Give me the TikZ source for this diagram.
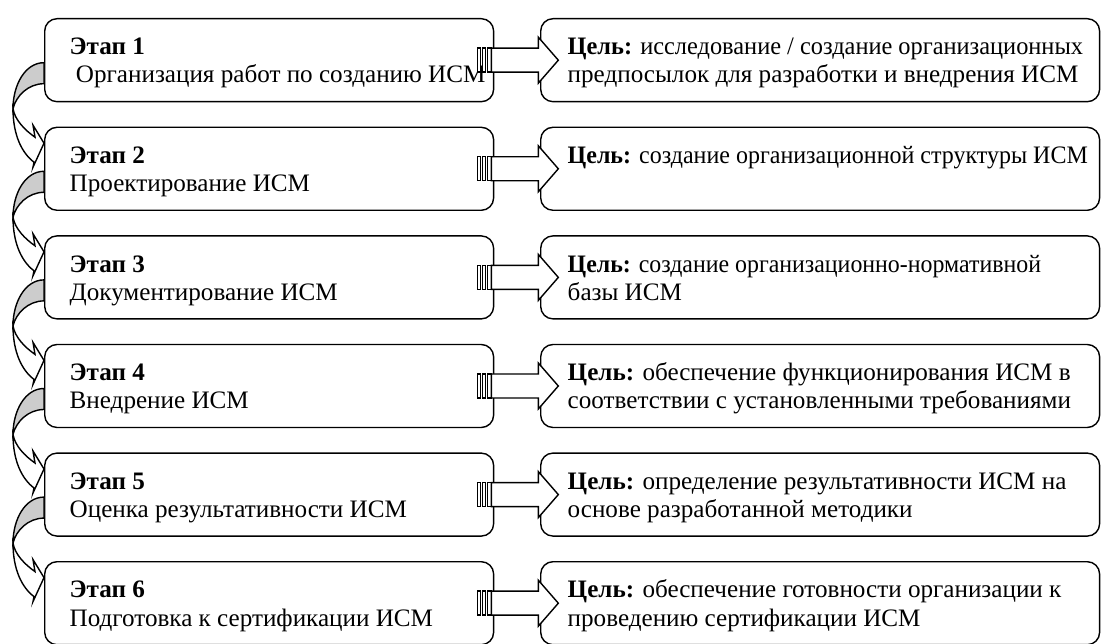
\documentclass[tikz,border=0pt]{standalone}
\usepackage{fontspec}
\setmainfont{Liberation Serif}

\begin{document}
\begin{tikzpicture}[x=0.02cm, y=-0.02cm, line width=0.8pt,
    stagebox/.style={draw, rounded corners=7pt, minimum width=8.98cm, minimum height=1.66cm, anchor=north west, inner sep=0pt},
    goalbox/.style={stagebox, minimum width=11.18cm},
    txt/.style={anchor=base west, align=left, inner sep=0pt, font=\fontsize{14.3}{16}\selectfont}]
    \useasboundingbox (0,0) rectangle (1104,644);

    % stages
    \node[stagebox] (st1) at (44,18) {};
    \node[stagebox] (st2) at (44,126.6) {};
    \node[stagebox] (st3) at (44,235.2) {};
    \node[stagebox] (st4) at (44,343.8) {};
    \node[stagebox] (st5) at (44,452.4) {};
    \node[stagebox] (st6) at (44,561) {};

    % goals
    \node[goalbox] (aim1) at (540,18) {};
    \node[goalbox] (aim2) at (540,126.6) {};
    \node[goalbox] (aim3) at (540,235.2) {};
    \node[goalbox] (aim4) at (540,343.8) {};
    \node[goalbox] (aim5) at (540,452.4) {};
    \node[goalbox] (aim6) at (540,561) {};

    % texts (base = last line)
    \node[txt] (st1t) at ([shift={(25,65)}]st1.north west) {\textbf{Этап 1}\\\hspace*{0.25em}Организация работ по созданию ИСМ};
    \node[txt] (st2t) at ([shift={(25,65)}]st2.north west) {\textbf{Этап 2}\\Проектирование ИСМ};
    \node[txt] (st3t) at ([shift={(25,65)}]st3.north west) {\textbf{Этап 3}\\Документирование ИСМ};
    \node[txt] (st4t) at ([shift={(25,65)}]st4.north west) {\textbf{Этап 4}\\Внедрение ИСМ};
    \node[txt] (st5t) at ([shift={(25,65)}]st5.north west) {\textbf{Этап 5}\\Оценка результативности ИСМ};
    \node[txt] (st6t) at ([shift={(25,65)}]st6.north west) {\textbf{Этап 6}\\Подготовка к сертификации ИСМ};

    \node[txt] (aim1t) at ([shift={(27,65)}]aim1.north west) {\scalebox{0.97}[1]{\textbf{Цель:} исследование / создание организационных}\\предпосылок для разработки и внедрения ИСМ};
    \node[txt] (aim2t) at ([shift={(27,37)}]aim2.north west) {\scalebox{0.955}[1]{\textbf{Цель:} создание организационной структуры ИСМ}};
    \node[txt] (aim3t) at ([shift={(27,65)}]aim3.north west) {\scalebox{0.95}[1]{\textbf{Цель:} создание организационно-нормативной}\\базы ИСМ};
    \node[txt] (aim4t) at ([shift={(27,65)}]aim4.north west) {\textbf{Цель:} обеспечение функционирования ИСМ в\\соответствии с установленными требованиями};
    \node[txt] (aim5t) at ([shift={(27,65)}]aim5.north west) {\textbf{Цель:} определение результативности ИСМ на\\основе разработанной методики};
    \node[txt] (aim6t) at ([shift={(27,65)}]aim6.north west) {\textbf{Цель:} обеспечение готовности организации к\\проведению сертификации ИСМ};

    % striped arrows from stage to goal
    \foreach \i in {1,...,6} {
        \begin{scope}[shift={(st\i.east)}]
            \draw[fill=white] (-17,-12) rectangle (-14,12);
            \draw[fill=white] (-12,-12) rectangle (-9,12);
            \draw[fill=white] (-7,-12) rectangle (-3,12);
            \draw[fill=white] (-3,-12) -- (44,-12) -- (44,-23) -- (64,0) -- (44,23) -- (44,12) -- (-3,12) -- cycle;
        \end{scope}
    }

    % curved arrows from stage to next stage
    \foreach \i in {1,...,5} {
        \begin{scope}[shift={(st\i.west)}]
            \draw[fill=black!20] (0,2.5) .. controls (-19,2.5) and (-31,25) .. (-31,48.5)
                .. controls (-28,36) and (-16,23.5) .. (0,23.5) -- cycle;
            \draw[fill=white] (-31,48.5) .. controls (-31,75) and (-22,93) .. (-10,102)
                -- (-11,107) -- (0,83) -- (-11,65) -- (-9,77)
                .. controls (-19,70) and (-29,60) .. (-31,48.5) -- cycle;
        \end{scope}
    }
\end{tikzpicture}
\end{document}
